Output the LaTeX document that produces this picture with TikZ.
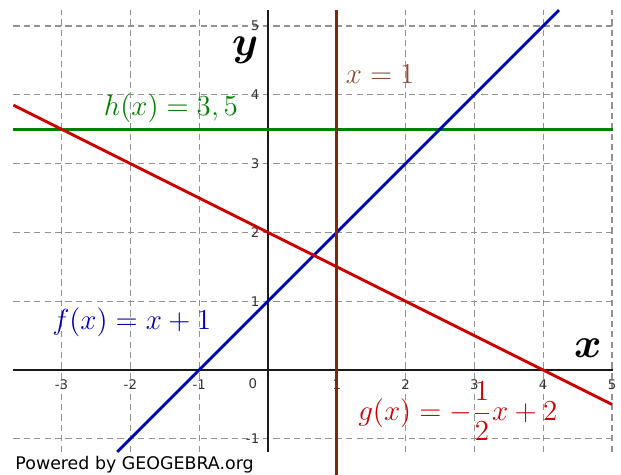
\documentclass[tikz,border=0pt]{standalone}
\usepackage{tikz}
\usepackage{amsmath,amssymb}
\usepackage{xcolor}
\usepackage{fontspec}
\newfontfamily\geofont{DejaVu Sans}
\usetikzlibrary{positioning,calc}
\definecolor{cGrid}{HTML}{929292}
\definecolor{cAxis}{HTML}{1A1A1A}
\definecolor{cTick}{HTML}{333333}
\definecolor{cFunF}{HTML}{0000B4}
\definecolor{cFunG}{HTML}{CC0000}
\definecolor{cFunH}{HTML}{008000}
\definecolor{cVert}{HTML}{7A2A10}
\tikzset{
  gridline/.style={draw=cGrid, line width=0.45pt, dash pattern=on 2.6pt off 1.7pt},
  axisline/.style={draw=cAxis, line width=1.2pt},
  graphline/.style={line width=1.2pt},
  tickx/.style={font=\geofont\fontsize{5.5}{6}\selectfont, text=cTick,
                anchor=north, inner sep=0pt},
  ticky/.style={font=\geofont\fontsize{5.5}{6}\selectfont, text=cTick,
                anchor=east, inner sep=0pt},
  axlbl/.style={font=\fontsize{19}{21}\selectfont\boldmath, inner sep=0pt},
  funlbl/.style={font=\fontsize{12}{14}\selectfont, inner sep=0pt},
  credit/.style={font=\geofont\fontsize{7.2}{8}\selectfont, anchor=base west, inner sep=0pt},
}

\begin{document}
\begin{tikzpicture}
\useasboundingbox (-3.895,-1.526) rectangle (5.131,5.378);

% ========== GRID ==========
\foreach \x in {-3,...,5}
  \draw[gridline] (\x,-1.19) -- (\x,5.23);
\foreach \y in {-1,...,5}
  \draw[gridline] (-3.7,\y) -- (5.02,\y);

% ========== AXES ==========
\draw[axisline] (-3.7,0) -- (5.02,0);
\draw[axisline] (0,-1.19) -- (0,5.23);

\foreach \x [count=\i] in {-3,-2,-1,1,2,3,4,5}
  \node[tickx] (tx\i) at (\x,-0.13) {\x};
\foreach \y [count=\i] in {-1,1,2,3,4,5}
  \node[ticky] (ty\i) at (-0.12,\y) {\y};
\node[tickx, anchor=center] (t0) at (-0.22,-0.20) {0};

% ========== GRAPHS ==========
\draw[graphline, cFunH] (-3.7,3.5) -- (5.02,3.5);
\draw[graphline, cFunF] (-2.19,-1.19) -- (4.23,5.23);
\draw[graphline, cFunG] (-3.7,3.85) -- (5.0,-0.5);
\draw[graphline, cVert] (1,-1.526) -- (1,5.23);

% ========== LABELS ==========
\node[axlbl] (ylbl) at (-0.33,4.64) {$y$};
\node[axlbl] (xlbl) at (4.65,0.31) {$x$};
\node[funlbl, text=cFunH] (hlbl) at (-1.41,3.81) {$h(x) = 3,5$};
\node[funlbl, text=cVert!85] (vlbl) at (1.63,4.30) {$x = 1$};
\node[funlbl, text=cFunF] (flbl) at (-1.98,0.70) {$f(x) = x + 1$};
\node[funlbl, text=cFunG] (glbl) at (2.76,-0.60) {$g(x) = -\dfrac{1}{2}x + 2$};
\node[credit] (pwr) at (-3.677,-1.453) {Powered by GEOGEBRA.org};

\end{tikzpicture}
\end{document}
